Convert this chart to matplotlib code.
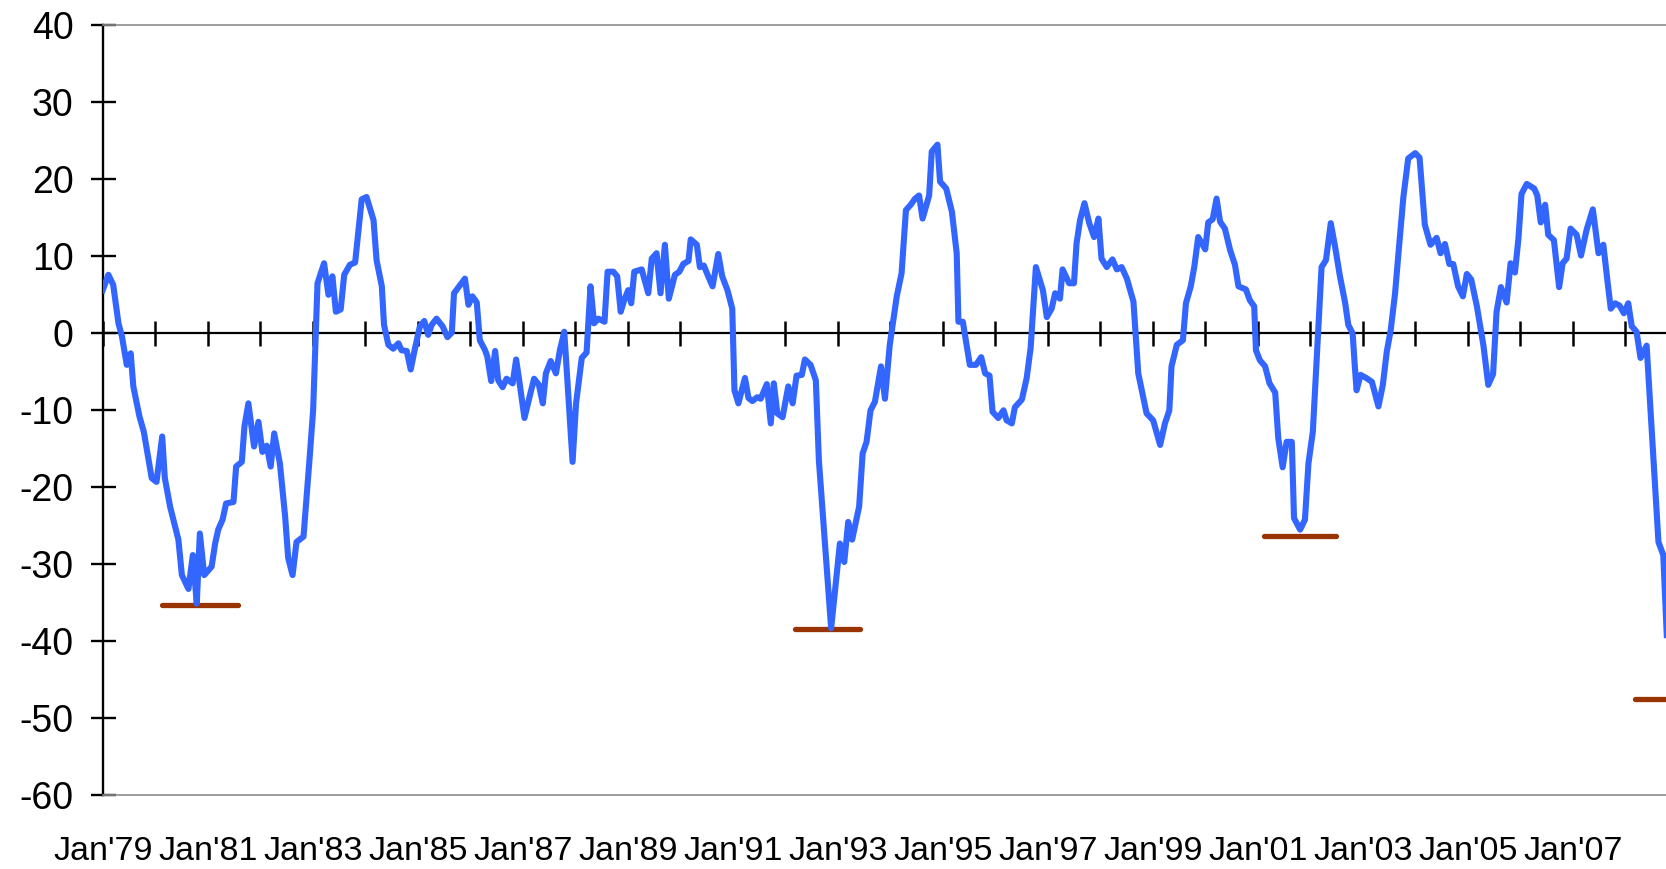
import numpy as np
import matplotlib
matplotlib.use("Agg")
import matplotlib.pyplot as plt

plt.rcParams['font.family'] = ['Liberation Sans', 'DejaVu Sans']

# ---- data (months counted from Jan 1979) ----
months = [0.0, 1.3, 2.4, 3.6, 4.4, 5.5, 6.4, 7.0, 8.4, 9.4, 11.2, 12.3, 13.6, 14.2, 15.4, 17.3, 18.1, 19.6,
          20.6, 21.5, 22.2, 23.2, 24.9, 25.7, 26.4, 27.4, 28.2, 29.9, 30.5, 31.8, 32.4, 33.3, 34.6, 35.6,
          36.5, 37.5, 38.4, 39.2, 40.5, 41.7, 42.4, 43.4, 44.3, 45.9, 47.2, 48.1, 49.1, 50.6, 51.6, 52.5,
          53.3, 54.4, 55.2, 56.5, 57.7, 59.2, 60.3,
          61.9, 62.6, 63.8, 64.3, 65.3, 66.4, 67.6, 68.3, 69.5, 70.4, 71.4, 72.5, 73.5, 74.4, 75.2, 76.3,
          77.7, 78.8, 79.8, 80.3, 82.8, 83.6, 84.5, 85.5, 86.2, 87.4, 87.9, 88.8, 89.7, 90.4, 91.4, 92.3,
          93.7, 94.5, 95.2, 96.4, 97.5, 98.6, 99.7, 100.6, 101.3, 102.4, 103.6, 104.5, 105.5,
          107.4, 108.2, 109.5, 110.6, 111.5, 112.3, 113.3, 114.7, 115.4, 116.7, 117.6, 118.4, 119.2, 120.1,
          120.8, 121.5, 123.2, 124.7, 125.5, 126.6, 127.5, 128.5, 129.4, 130.8, 131.8, 132.7, 133.9, 134.4,
          135.8, 136.5, 137.4, 138.4, 139.4, 140.7, 141.6, 142.8, 143.9, 144.4, 145.3, 146.8, 147.6, 148.5,
          149.6, 150.4, 151.8, 152.7, 153.4, 154.2, 155.4, 156.7, 157.7, 158.6,
          159.8, 160.5, 161.8, 163.0, 163.7, 166.5, 168.5, 169.5, 170.4, 171.3, 172.9, 173.7, 174.6, 175.5,
          176.5, 177.9, 178.8, 179.9, 181.5, 182.6,
          183.6, 184.7, 185.7, 186.6, 187.4, 188.9, 189.5, 190.8, 191.4, 192.8, 194.1, 195.2, 195.6, 196.6,
          198.2, 199.6, 200.8, 201.7, 202.7, 203.4, 204.7, 205.9, 206.6, 207.8, 208.5, 210.1, 211.2, 212.1,
          213.3, 214.9, 215.8,
          216.9, 217.7, 218.8, 219.4, 220.9, 222.0, 222.6, 223.4, 224.4, 225.5, 226.6, 227.6, 228.3, 229.5,
          230.8, 231.8, 232.9, 234.1, 235.6, 236.7,
          238.6, 240.1, 241.7, 242.8, 243.8, 244.3, 245.5, 246.9, 247.6, 248.7, 249.5, 250.4, 252.0, 252.7,
          253.7, 254.6, 255.4, 256.5, 257.7, 258.8, 259.6, 261.3, 262.2, 263.2, 263.6, 264.5, 265.7, 266.7,
          268.0, 268.7, 269.7, 270.6, 271.8, 272.3, 273.7, 274.8, 275.6, 276.6, 278.6, 279.6, 280.7, 281.7,
          282.8, 284.0, 284.7, 285.7, 286.2, 286.6, 287.5, 288.8, 290.1, 291.6, 292.6, 293.5, 294.4, 295.4,
          296.1, 297.3, 298.4,
          300.0, 301.0, 302.2, 303.5, 304.9, 305.8, 306.8, 307.8, 308.7, 309.8, 310.9, 311.8, 312.8, 314.1,
          315.6, 316.7, 317.8, 318.6, 319.6, 320.9, 321.8, 322.8, 323.6, 324.3, 325.5, 327.2, 327.9, 328.7,
          329.7, 330.4, 331.7, 332.9, 333.7, 334.6, 335.5, 336.9, 337.9, 339.2, 340.6, 341.9, 343.0, 343.9,
          344.7, 345.7, 346.7, 347.7, 348.7, 349.5, 350.6, 351.5, 352.9, 355.6, 356.7, 357.5]

values = [5.6, 7.6, 6.3, 1.3, -0.4, -4.1, -2.6, -6.9, -10.8, -12.8, -18.8, -19.3, -13.4, -18.8, -22.5, -26.8, -31.4, -33.2,
          -28.8, -35.1, -26.0, -31.4, -30.3, -27.3, -25.5, -24.2, -22.1, -21.9, -17.3, -16.7, -12.1, -9.1, -14.7, -11.5,
          -15.4, -14.6, -17.3, -13.0, -16.9, -23.8, -29.2, -31.4, -27.1, -26.4, -16.9, -10.0, 6.5, 9.1, 5.0, 7.4,
          2.8, 3.1, 7.6, 8.9, 9.2, 17.4, 17.7,
          14.7, 9.5, 6.1, 1.1, -1.5, -2.0, -1.3, -2.2, -2.3, -4.7, -1.9, 0.9, 1.6, -0.2, 1.1, 1.9,
          0.9, -0.5, 0.1, 5.2, 7.1, 3.7, 4.8, 4.0, -0.9, -2.2, -3.0, -6.2, -2.3, -6.1, -7.0, -5.9,
          -6.5, -3.4, -6.1, -11.0, -8.4, -5.9, -6.7, -9.1, -5.2, -3.6, -5.2, -2.2, 0.2,
          -16.7, -9.1, -3.2, -2.5, 6.1, 1.3, 1.9, 1.5, 8.0, 8.0, 7.4, 2.8, 4.3, 5.6,
          3.9, 8.0, 8.3, 5.2, 9.7, 10.4, 5.2, 11.5, 4.5, 7.6, 8.0, 9.0, 9.4, 12.2,
          11.5, 8.6, 8.8, 7.4, 6.1, 10.3, 7.4, 5.6, 3.2, -7.4, -9.1, -5.8, -8.4, -8.8,
          -8.3, -8.5, -6.6, -11.7, -6.5, -10.4, -10.9, -6.9, -9.1, -5.5,
          -5.4, -3.4, -4.1, -6.1, -16.5, -38.3, -27.3, -29.7, -24.5, -26.8, -22.5, -15.6, -14.1, -10.0,
          -8.9, -4.3, -8.5, -1.5, 4.8, 7.8,
          16.0, 16.7, 17.5, 17.9, 14.9, 17.9, 23.6, 24.5, 19.7, 18.8, 15.8, 10.4, 1.5, 1.5,
          -4.1, -4.1, -3.1, -5.2, -5.5, -10.2, -11.0, -10.0, -11.3, -11.7, -9.6, -8.6, -5.8, -1.9,
          8.6, 5.6, 2.1,
          3.2, 5.2, 4.5, 8.3, 6.5, 6.5, 11.7, 14.7, 16.9, 14.3, 12.5, 14.9, 9.7, 8.6,
          9.6, 8.3, 8.6, 7.1, 4.1, -5.2,
          -10.4, -11.3, -14.5, -11.7, -10.0, -4.3, -1.5, -0.9, 3.9, 6.1, 8.6, 12.5, 10.9, 14.4,
          14.8, 17.5, 14.5, 13.6, 10.8, 8.9, 6.1, 5.7, 4.3, 3.5, -2.2, -3.5, -4.3, -6.5,
          -7.7, -13.6, -17.4, -14.1, -14.1, -24.0, -25.5, -24.2, -16.9, -12.8, 8.6, 9.5, 14.3, 11.2,
          7.4, 3.9, 1.1, 0.0, -4.3, -7.4, -5.4, -5.8, -6.3, -9.5, -6.7, -2.4, 0.4, 5.2,
          9.9, 17.7, 22.7,
          23.4, 22.8, 14.1, 11.5, 12.4, 10.4, 11.6, 9.0, 9.0, 6.1, 4.8, 7.7, 7.0, 3.5,
          -1.6, -6.7, -5.3, 2.8, 6.0, 4.0, 9.1, 7.9, 12.3, 18.1, 19.4, 18.8, 17.9, 14.4,
          16.7, 12.8, 12.1, 6.0, 9.1, 9.7, 13.6, 12.8, 10.1, 13.5, 16.1, 10.4, 11.5, 7.0,
          3.2, 3.9, 3.6, 2.6, 3.9, 0.9, 0.2, -3.2, -1.6, -27.1, -28.8, -39.2]

# trough marker bars (start month, end month, level)
trough_start = [13.5, 158.3, 265.4, 350.3]
trough_end = [31.0, 173.0, 281.8, 366.0]
trough_level = [-35.3, -38.4, -26.3, -47.5]

label_years = list(range(1979, 2008, 2))
tick_labels = ["Jan'%02d" % (y % 100) for y in label_years]
minor_years = list(range(1979, 2009))
y_ticks = list(range(-60, 41, 10))

# ---- figure ----
W, H = 1666, 869
fig = plt.figure(figsize=(W / 100, H / 100), dpi=100)
x_left, x_right = 102.7, 1666.0
y_top, y_bot = 25.3, 795.3
ax = fig.add_axes([x_left / W, (H - y_bot) / H, (x_right - x_left) / W, (y_bot - y_top) / H])

years = 1979 + np.array(months) / 12.0
ax.set_xlim(1979, 1979 + (x_right - x_left) / 52.5)
ax.set_ylim(-60, 40)

for s, e, lv in zip(trough_start, trough_end, trough_level):
    ax.plot([1979 + s / 12.0, 1979 + e / 12.0], [lv, lv], color='#993300', lw=3.8,
            solid_capstyle='round', zorder=2)

ax.plot(years, values, color='#3366FF', lw=4.4, solid_joinstyle='round', zorder=3)

# spines
ax.spines['right'].set_visible(False)
ax.spines['left'].set_color('black')
ax.spines['left'].set_linewidth(1.7)
for s in ('top', 'bottom'):
    ax.spines[s].set_color('#8c8c8c')
    ax.spines[s].set_linewidth(1.2)

ax.set_yticks(y_ticks)
ax.set_yticklabels([str(v) for v in y_ticks])
ax.tick_params(axis='y', direction='inout', length=18, width=1.7, pad=12, labelsize=27, colors='black')

ax.set_xticks(label_years)
ax.set_xticklabels(tick_labels)
ax.tick_params(axis='x', length=0, pad=29, labelsize=24.5)

# zero line with yearly ticks
sec = ax.secondary_xaxis(0.6)
sec.set_xticks(minor_years)
sec.tick_params(direction='inout', length=18, width=1.8, labelbottom=False, labeltop=False)
for s in sec.spines.values():
    s.set_color('black')
    s.set_linewidth(1.6)

fig.savefig('out.png', dpi=100)
